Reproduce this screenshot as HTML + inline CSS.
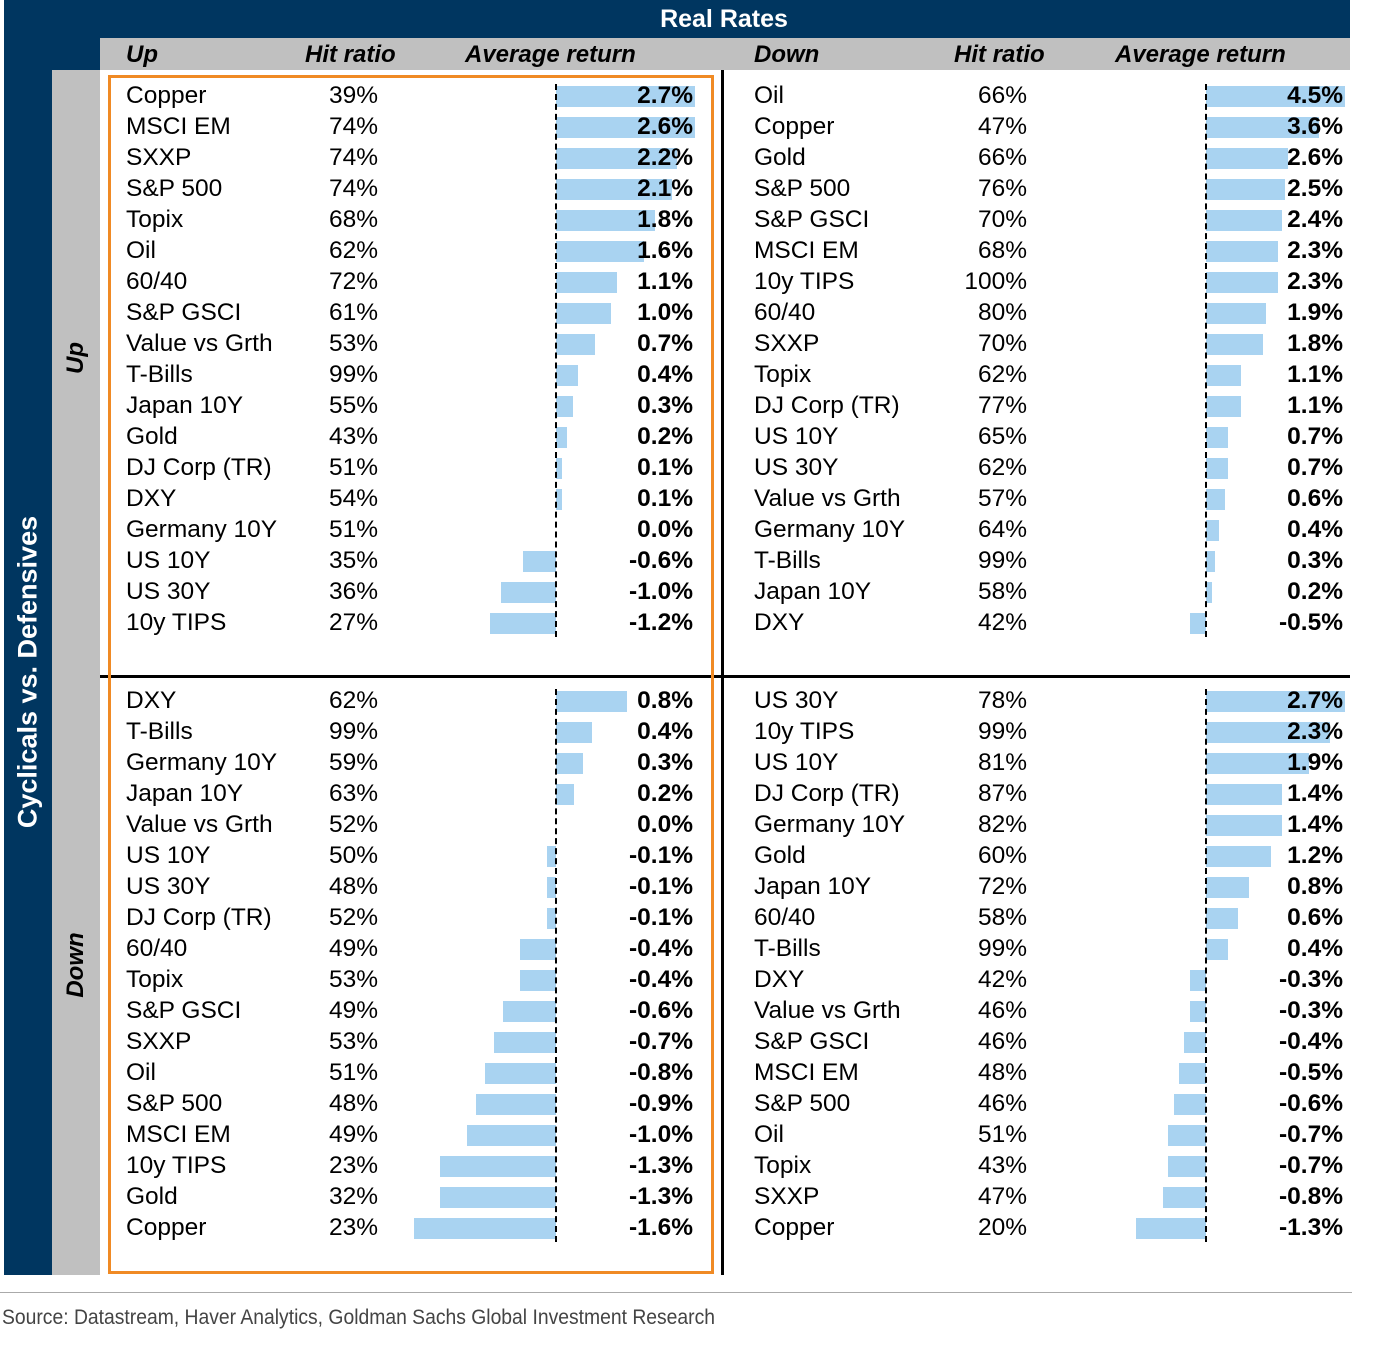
<!DOCTYPE html>
<html><head><meta charset="utf-8"><style>
body{margin:0;width:1384px;height:1346px;background:#fff;position:relative;overflow:hidden;font-family:"Liberation Sans",sans-serif}
.abs{position:absolute}
.t{position:absolute;font-size:24.5px;color:#000;white-space:nowrap;line-height:28px}
.h{position:absolute;font-size:24px;font-weight:bold;font-style:italic;line-height:32px;white-space:nowrap}
</style></head><body>
<div class="abs" style="left:4px;top:0;width:1346px;height:38px;background:#003660"></div>
<div class="abs" style="left:4px;top:0;width:96px;height:70px;background:#003660"></div>
<div class="abs" style="left:600px;top:3px;width:248px;text-align:center;color:#fff;font-weight:bold;font-size:25px;line-height:32px">Real Rates</div>
<div class="abs" style="left:4px;top:0;width:48px;height:1275px;background:#003660"></div>
<div class="abs" style="left:28px;top:672px;transform:translate(-50%,-50%) rotate(-90deg);color:#fff;font-weight:bold;font-size:27px;white-space:nowrap">Cyclicals vs. Defensives</div>
<div class="abs" style="left:52px;top:70px;width:48px;height:1205px;background:#c0c0c0"></div>
<div class="abs" style="left:76px;top:358px;transform:translate(-50%,-50%) rotate(-90deg);font-weight:bold;font-style:italic;font-size:24px">Up</div>
<div class="abs" style="left:76px;top:965px;transform:translate(-50%,-50%) rotate(-90deg);font-weight:bold;font-style:italic;font-size:24px">Down</div>
<div class="abs" style="left:100px;top:38px;width:1250px;height:32px;background:#c0c0c0"></div>
<div class="h" style="left:126px;top:39px">Up</div>
<div class="h" style="left:305px;top:39px">Hit ratio</div>
<div class="h" style="left:465px;top:39px">Average return</div>
<div class="h" style="left:754px;top:39px">Down</div>
<div class="h" style="left:954px;top:39px">Hit ratio</div>
<div class="h" style="left:1115px;top:39px">Average return</div>
<div class="abs" style="left:721px;top:70px;width:3px;height:1205px;background:#000"></div>
<div class="abs" style="left:100px;top:675px;width:1250px;height:3px;background:#000"></div>
<div class="abs" style="left:108px;top:75px;width:600px;height:1193px;border:3px solid #f08a24"></div>
<div class="abs" style="left:0;top:1292px;width:1352px;height:1px;background:#aaa"></div>
<div class="abs" style="left:2px;top:1306px;font-size:21px;color:#444;transform:scaleX(0.92);transform-origin:left;white-space:nowrap">Source: Datastream, Haver Analytics, Goldman Sachs Global Investment Research</div>
<div id="root"></div>
<script>
const q1Names=["Copper","MSCI EM","SXXP","S&P 500","Topix","Oil","60/40","S&P GSCI","Value vs Grth","T-Bills","Japan 10Y","Gold","DJ Corp (TR)","DXY","Germany 10Y","US 10Y","US 30Y","10y TIPS"];
const q1Hit=[39,74,74,74,68,62,72,61,53,99,55,43,51,54,51,35,36,27];
const q1Ret=[2.7,2.6,2.2,2.1,1.8,1.6,1.1,1.0,0.7,0.4,0.3,0.2,0.1,0.1,0.0,-0.6,-1.0,-1.2];
const q2Names=["Oil","Copper","Gold","S&P 500","S&P GSCI","MSCI EM","10y TIPS","60/40","SXXP","Topix","DJ Corp (TR)","US 10Y","US 30Y","Value vs Grth","Germany 10Y","T-Bills","Japan 10Y","DXY"];
const q2Hit=[66,47,66,76,70,68,100,80,70,62,77,65,62,57,64,99,58,42];
const q2Ret=[4.5,3.6,2.6,2.5,2.4,2.3,2.3,1.9,1.8,1.1,1.1,0.7,0.7,0.6,0.4,0.3,0.2,-0.5];
const q3Names=["DXY","T-Bills","Germany 10Y","Japan 10Y","Value vs Grth","US 10Y","US 30Y","DJ Corp (TR)","60/40","Topix","S&P GSCI","SXXP","Oil","S&P 500","MSCI EM","10y TIPS","Gold","Copper"];
const q3Hit=[62,99,59,63,52,50,48,52,49,53,49,53,51,48,49,23,32,23];
const q3Ret=[0.8,0.4,0.3,0.2,0.0,-0.1,-0.1,-0.1,-0.4,-0.4,-0.6,-0.7,-0.8,-0.9,-1.0,-1.3,-1.3,-1.6];
const q4Names=["US 30Y","10y TIPS","US 10Y","DJ Corp (TR)","Germany 10Y","Gold","Japan 10Y","60/40","T-Bills","DXY","Value vs Grth","S&P GSCI","MSCI EM","S&P 500","Oil","Topix","SXXP","Copper"];
const q4Hit=[78,99,81,87,82,60,72,58,99,42,46,46,48,46,51,43,47,20];
const q4Ret=[2.7,2.3,1.9,1.4,1.4,1.2,0.8,0.6,0.4,-0.3,-0.3,-0.4,-0.5,-0.6,-0.7,-0.7,-0.8,-1.3];

const root=document.getElementById('root');
function quad(id,names,hits,rets,x0,hitRight,y0,axisX,scale,maxX){
  const rowH=31;
  const xs=v=>axisX+v*scale;
  names.forEach((n,i)=>{
    const cy=y0+i*rowH;
    const name=document.createElement('div');name.className='t';
    
    
    name.style.left=x0+'px';name.style.top=(cy-14)+'px';name.textContent=n;root.appendChild(name);
    const h=document.createElement('div');h.className='t';
    
    
    h.style.left=(hitRight-100)+'px';h.style.width='100px';h.style.textAlign='right';h.style.top=(cy-14)+'px';h.textContent=hits[i]+'%';root.appendChild(h);
    let a=Math.min(xs(rets[i]),maxX),b=axisX;
    const bar=document.createElement('div');bar.className='abs';
    
    
    bar.style.left=Math.min(a,b)+'px';bar.style.width=Math.abs(a-b)+'px';bar.style.top=(cy-10)+'px';bar.style.height='21px';bar.style.background='#a9d3f1';root.appendChild(bar);
    const v=document.createElement('div');v.className='t';
    
    
    v.style.left=(maxX-100)+'px';v.style.width='98px';v.style.textAlign='right';v.style.fontWeight='bold';v.style.top=(cy-14)+'px';v.textContent=rets[i].toFixed(1)+'%';root.appendChild(v);
  });
  const ax=document.createElement('div');ax.className='abs';
  
  
  ax.style.left=(axisX-1)+'px';ax.style.top=(y0-12)+'px';ax.style.height=(rowH*(names.length-1)+26)+'px';ax.style.borderLeft='2px dashed #000';root.appendChild(ax);
}
quad('q1',q1Names,q1Hit,q1Ret,126,378,96,556,55,695);
quad('q2',q2Names,q2Hit,q2Ret,754,1027,96,1206,31.5,1345);
quad('q3',q3Names,q3Hit,q3Ret,126,378,701,556,89,695);
quad('q4',q4Names,q4Hit,q4Ret,754,1027,701,1206,54,1345);
</script>
</body></html>
